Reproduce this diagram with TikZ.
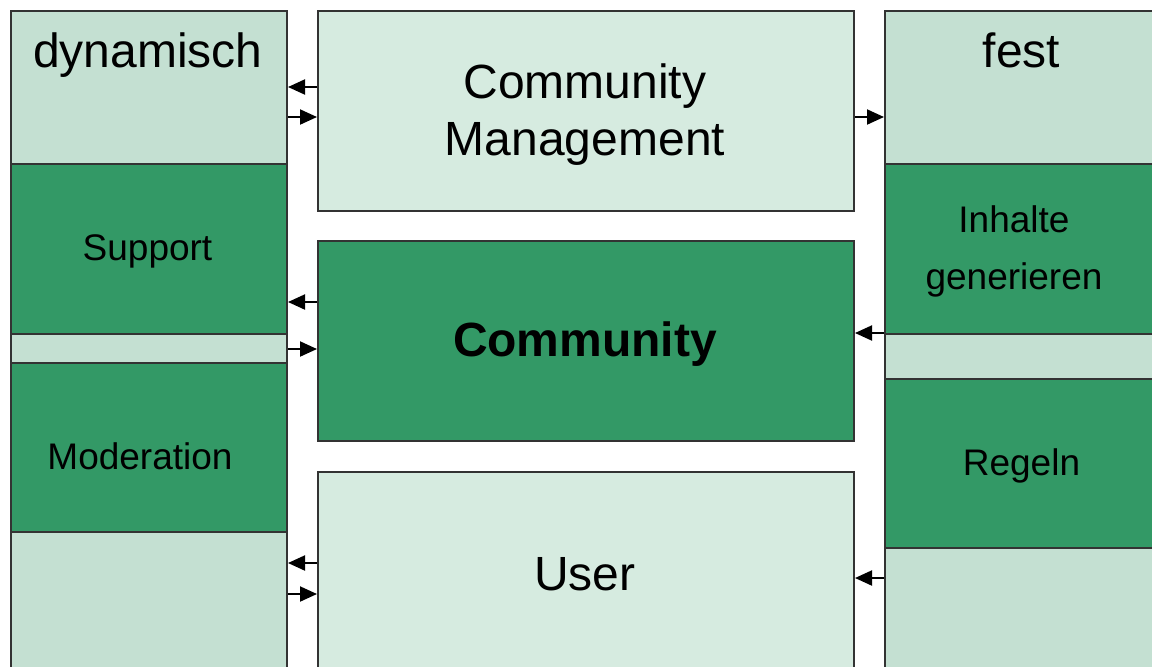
\documentclass[tikz,border=0pt]{standalone}
\usepackage{fontspec}
\setmainfont{Liberation Sans}
\usetikzlibrary{arrows.meta}
\definecolor{paleGreen}{RGB}{196,224,210}
\definecolor{mintGreen}{RGB}{214,235,224}
\definecolor{deepGreen}{RGB}{51,153,102}
\begin{document}
\begin{tikzpicture}[x=0.5pt,y=-0.5pt,
  panel/.style={draw=black!80, line width=1pt, inner sep=0pt, anchor=north west},
  column/.style={panel, fill=paleGreen, minimum width=138pt, minimum height=345pt},
  middlebox/.style={panel, minimum width=268pt, minimum height=100pt},
  sidebox/.style={panel, fill=deepGreen, minimum width=138pt},
  bigtext/.style={inner sep=0pt, align=center, font=\fontsize{24}{28.5}\selectfont},
  smalltext/.style={inner sep=0pt, align=center, font=\fontsize{18.5}{28.5}\selectfont},
  arr/.style={line width=1pt, -{Triangle[length=8.5pt,width=7.5pt]}}]
\useasboundingbox (0,0) rectangle (1152,666);
\clip (0,0) rectangle (1152,666);

% left column: dynamic tasks
\node[column] (dyncol) at (10,10) {};
\node[bigtext] (dyn) at (148,55) {dynamisch};
\node[sidebox, minimum height=85pt] (support) at (10,163) {};
\node[smalltext] (supporttxt) at (147.5,251) {Support};
\node[sidebox, minimum height=84.5pt] (moderation) at (10,362) {};
\node[smalltext] (moderationtxt) at (140,456) {Moderation};

% right column: fixed tasks
\node[column] (festcol) at (884,10) {};
\node[bigtext] (fest) at (1021.5,50) {fest};
\node[sidebox, minimum height=85pt] (inhalte) at (884,163) {};
\node[smalltext] (inhaltetxt) at (1014,251) {Inhalte\\generieren};
\node[sidebox, minimum height=84.5pt] (regeln) at (884,378) {};
\node[smalltext] (regelntxt) at (1021.5,466) {Regeln};

% centre stack
\node[middlebox, fill=mintGreen] (cm) at (317,10) {};
\node[bigtext] (cmtxt) at (585,115) {Community\\Management};
\node[middlebox, fill=deepGreen] (comm) at (317,240) {};
\node[bigtext, font=\fontsize{24}{28.5}\selectfont\bfseries] (commtxt) at (585,344) {Community};
\node[middlebox, fill=mintGreen] (user) at (317,471) {};
\node[bigtext] (usertxt) at (585,574) {User};

% connectors, left gap
\draw[arr] (cm.west |- 0,87) -- (dyncol.east |- 0,87);
\draw[arr] (dyncol.east |- 0,117) -- (cm.west |- 0,117);
\draw[arr] (comm.west |- 0,302) -- (dyncol.east |- 0,302);
\draw[arr] (dyncol.east |- 0,349) -- (comm.west |- 0,349);
\draw[arr] (user.west |- 0,563) -- (dyncol.east |- 0,563);
\draw[arr] (dyncol.east |- 0,594) -- (user.west |- 0,594);

% connectors, right gap
\draw[arr] (cm.east |- 0,117) -- (festcol.west |- 0,117);
\draw[arr] (festcol.west |- 0,333) -- (comm.east |- 0,333);
\draw[arr] (festcol.west |- 0,578) -- (user.east |- 0,578);
\end{tikzpicture}
\end{document}
